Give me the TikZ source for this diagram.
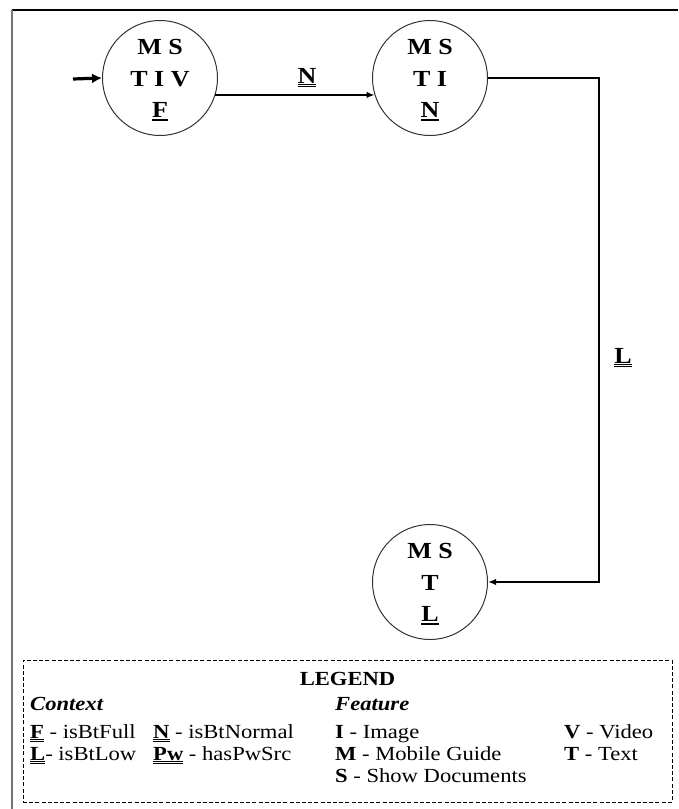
\documentclass[tikz,border=0pt]{standalone}
\usepackage{fontspec}
\setmainfont[FakeStretch=1.13]{Liberation Serif}
\usetikzlibrary{arrows.meta}
\newcommand\dul[1]{\vtop{\hbox{#1}\kern0.9pt\hrule height 0.8pt\kern1.0pt\hrule height 0.8pt}}
\tikzset{
  state/.style={circle,draw=black!80,line width=1pt,minimum size=115pt,inner sep=0pt,align=center,
    font=\bfseries\fontsize{23}{31.5}\selectfont},
  conn/.style={line width=2pt,-{Latex[length=8pt,width=6.5pt]}},
  initarr/.style={line width=3.2pt,-{Latex[length=10pt,width=10pt]}},
  elabel/.style={anchor=base,font=\bfseries\fontsize{23}{26}\selectfont,inner sep=0pt},
  legtxt/.style={anchor=base west,inner sep=0pt,font=\fontsize{20}{22}\selectfont},
  leghead/.style={legtxt,font=\bfseries\itshape\fontsize{20}{22}\selectfont},
  legbox/.style={draw,line width=1pt,dash pattern=on 4pt off 2.2pt,minimum width=649pt,minimum height=142pt,inner sep=0pt}
}
\begin{document}
\begin{tikzpicture}[x=1pt,y=-1pt]
\useasboundingbox (0,0) rectangle (678,809);
% frame
\draw[line width=1.4pt] (12,10) -- (678,10);
\draw[line width=2pt,black!55] (12,10) -- (12,809);
% states
\node[state] (s1) at (160,78) {\rule{0pt}{20pt}M S\\T I V\\\dul{F}};
\node[state] (s2) at (430,78) {\rule{0pt}{20pt}M S\\T I\\\dul{N}};
\node[state] (s3) at (430,582) {\rule{0pt}{20pt}M S\\T\\\dul{L}};
% connectors
\coordinate (start) at (73,79);
\draw[initarr] (start) -- (s1.west);
\draw[conn] (s1.-17) -- (s2.197);
\node[elabel] (lN) at (307,83) {\dul{N}};
\draw[conn] (s2.east) -- ++(111,0) |- (s3.east);
\node[elabel] (lL) at (623,363) {\dul{L}};
% legend
\node[legbox] (legend) at (347.5,731) {};
\node[legtxt,anchor=base,font=\bfseries\fontsize{20}{22}\selectfont] (lg) at (347.5,685) {LEGEND};
\node[leghead] (ctx) at (30,710) {Context};
\node[leghead] (feat) at (335,710) {Feature};
\node[legtxt] (lf) at (30,738) {\dul{\textbf{F}} - isBtFull};
\node[legtxt] (ln) at (153,738) {\dul{\textbf{N}} - isBtNormal};
\node[legtxt] (ll) at (30,760) {\dul{\textbf{L}}- isBtLow};
\node[legtxt] (lp) at (153,760) {\dul{\textbf{Pw}} - hasPwSrc};
\node[legtxt] (li) at (335,738) {\textbf{I} - Image};
\node[legtxt] (lm) at (335,760) {\textbf{M} - Mobile Guide};
\node[legtxt] (ls) at (335,782) {\textbf{S} - Show Documents};
\node[legtxt] (lv) at (564,738) {\textbf{V} - Video};
\node[legtxt] (lt) at (564,760) {\textbf{T} - Text};
\end{tikzpicture}
\end{document}
